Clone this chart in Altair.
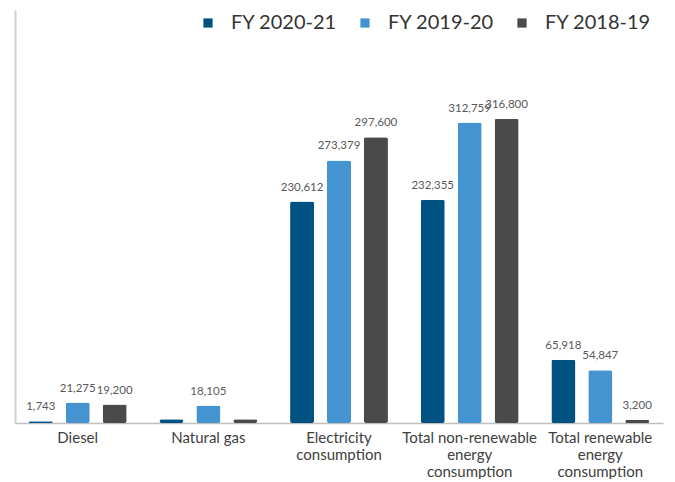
import altair as alt
import pandas as pd

categories = ["Diesel", "Natural gas", "Electricity consumption",
              "Total non-renewable energy consumption",
              "Total renewable energy consumption"]
label_lines = [["Diesel"], ["Natural gas"], ["Electricity", "consumption"],
               ["Total non-renewable", "energy", "consumption"],
               ["Total renewable", "energy", "consumption"]]
series = ["FY 2020-21", "FY 2019-20", "FY 2018-19"]
# Natural gas for FY 2020-21 and FY 2018-19 carry no label in the source (estimated, small)
fy2021 = [1743, 4000, 230612, 232355, 65918]
fy1920 = [21275, 18105, 273379, 312759, 54847]
fy1819 = [19200, 4000, 297600, 316800, 3200]
labelled2021 = [True, False, True, True, True]
labelled1920 = [True, True, True, True, True]
labelled1819 = [True, False, True, True, True]
colors = ["#005283", "#4394D0", "#4A4A4A"]

rows = []
for s, vals, shown in zip(series, [fy2021, fy1920, fy1819],
                          [labelled2021, labelled1920, labelled1819]):
    for c, v, sh in zip(categories, vals, shown):
        rows.append({"category": c, "series": s, "value": v,
                     "label": f"{v:,}" if sh else ""})
df = pd.DataFrame(rows)

expr_parts = []
for c, lines in zip(categories, label_lines):
    arr = "[" + ",".join("'" + l + "'" for l in lines) + "]"
    expr_parts.append(f"datum.value == '{c}' ? {arr} : ")
label_expr = "".join(expr_parts) + "datum.label"

FONT = "Lato"

x = alt.X("category:N", sort=categories, title=None,
          scale=alt.Scale(paddingInner=0.2, paddingOuter=0.08),
          axis=alt.Axis(labelAngle=0, ticks=False, domainColor="#BFBFBF", domainWidth=1.5,
                        labelColor="#404040", labelFontSize=15, labelFont=FONT,
                        labelPadding=7, labelLineHeight=17, labelExpr=label_expr))
xo = alt.XOffset("series:N", sort=series,
                 scale=alt.Scale(paddingInner=0.35, paddingOuter=0.09))
y = alt.Y("value:Q", title=None, scale=alt.Scale(domain=[0, 430000], nice=False),
          axis=alt.Axis(labels=False, ticks=False, grid=False, domainColor="#CFCFCF",
                        domainWidth=2))

bars = alt.Chart(df).mark_bar(cornerRadius=2).encode(
    x=x, xOffset=xo, y=y,
    color=alt.Color("series:N", sort=series,
                    scale=alt.Scale(domain=series, range=colors),
                    legend=alt.Legend(title=None, orient="none", direction="horizontal",
                                      legendX=183, legendY=3, symbolType="square",
                                      symbolSize=85, symbolStrokeWidth=0,
                                      labelFontSize=20, labelFont=FONT, labelColor="#333333",
                                      labelOffset=13, columnPadding=18, padding=0)),
)
texts = alt.Chart(df).mark_text(baseline="bottom", dy=-9, fontSize=11.5, font=FONT,
                                color="#595959").encode(
    x=x, xOffset=xo, y=y, text="label:N")

chart = (bars + texts).properties(
    width=648, height=413,
    padding={"left": 7, "top": 2, "right": 2, "bottom": 56},
    autosize=alt.AutoSizeParams(type="none"),
).configure_view(stroke=None)

chart.save("out.html", embed_options={"renderer": "svg", "actions": False})
